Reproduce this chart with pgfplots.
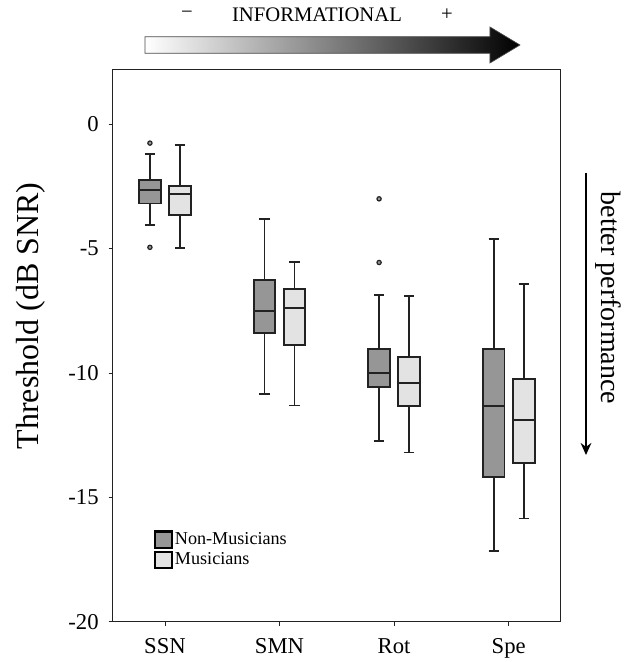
\documentclass[border=0pt]{standalone}
\usepackage{pgfplots}
\pgfplotsset{compat=1.18}
\usepgfplotslibrary{statistics}
\usetikzlibrary{arrows.meta}
\usepackage{fontspec}
\setmainfont{Liberation Serif}

\definecolor{nmcol}{HTML}{969696}
\definecolor{mcol}{HTML}{E3E3E3}
\definecolor{edgecol}{HTML}{222222}

\pgfplotsset{
  bx/.style={forget plot, solid, draw=edgecol, line width=1.4pt, fill=#1,
    boxplot/draw direction=y, boxplot/box extend=0.19, boxplot/whisker extend=0.09,
    mark=*, mark size=1.6pt, mark options={fill=#1, draw=edgecol, line width=0.9pt}},
  sqleg/.style={legend image code/.code={\draw[##1] (0pt,-6.2pt) rectangle (12.5pt,6.2pt);}},
}

\begin{document}
\begin{tikzpicture}
\begin{axis}[
  at={(0,0)}, anchor=south west,
  scale only axis, width=336pt, height=413.8pt,
  xmin=0.544, xmax=4.454, ymin=-20, ymax=2.18,
  axis line style={line width=0.8pt, draw=edgecol},
  xtick={1,2,3,4}, xticklabels={SSN,SMN,Rot,Spe},
  ytick={-20,-15,-10,-5,0}, yticklabels={-20,-15,-10,-5,0},
  tick pos=left, tick align=outside, major tick length=3pt,
  tick style={draw=edgecol, line width=0.6pt},
  ticklabel style={font=\fontsize{17}{20}\selectfont},
  yticklabel style={xshift=-4pt},
  xticklabel style={yshift=-6pt},
  ylabel={Threshold (dB SNR)},
  ylabel style={font=\fontsize{24}{28}\selectfont, at={(axis description cs:-0.182,0.554)}, anchor=center},
  legend style={at={(0.092,0.166)}, anchor=north west, draw=none, fill=none,
    font=\fontsize{13.6}{15}\selectfont, row sep=1.2pt, inner sep=0pt,
    nodes={inner sep=1.5pt}},
  legend cell align=left,
]
% Non-Musicians
\addplot[bx=nmcol, boxplot prepared={draw position=0.869,
  lower whisker=-4.04, lower quartile=-3.19, median=-2.63, upper quartile=-2.24, upper whisker=-1.19}]
  table[row sep=\\, y index=0] {-0.76\\ -4.95\\};
\addplot[bx=nmcol, boxplot prepared={draw position=1.869,
  lower whisker=-10.86, lower quartile=-8.39, median=-7.51, upper quartile=-6.28, upper whisker=-3.80}]
  coordinates {};
\addplot[bx=nmcol, boxplot prepared={draw position=2.869,
  lower whisker=-12.73, lower quartile=-10.55, median=-9.99, upper quartile=-9.04, upper whisker=-6.88}]
  table[row sep=\\, y index=0] {-3.00\\ -5.56\\};
\addplot[bx=nmcol, boxplot prepared={draw position=3.869,
  lower whisker=-17.16, lower quartile=-14.19, median=-11.33, upper quartile=-9.04, upper whisker=-4.61}]
  coordinates {};
% Musicians
\addplot[bx=mcol, boxplot prepared={draw position=1.131,
  lower whisker=-4.98, lower quartile=-3.65, median=-2.81, upper quartile=-2.50, upper whisker=-0.83}]
  coordinates {};
\addplot[bx=mcol, boxplot prepared={draw position=2.131,
  lower whisker=-11.31, lower quartile=-8.89, median=-7.38, upper quartile=-6.64, upper whisker=-5.54}]
  coordinates {};
\addplot[bx=mcol, boxplot prepared={draw position=3.131,
  lower whisker=-13.20, lower quartile=-11.34, median=-10.42, upper quartile=-9.36, upper whisker=-6.92}]
  coordinates {};
\addplot[bx=mcol, boxplot prepared={draw position=4.131,
  lower whisker=-15.85, lower quartile=-13.62, median=-11.88, upper quartile=-10.24, upper whisker=-6.44}]
  coordinates {};
\addlegendimage{sqleg, fill=nmcol, draw=black, line width=1.6pt}
\addlegendentry{Non-Musicians}
\addlegendimage{sqleg, fill=mcol, draw=black, line width=1.6pt}
\addlegendentry{Musicians}
\end{axis}

\begin{scope}[x=0.75pt, y=0.75pt]
% informational gradient arrow on top
\shade[left color=white, right color=black, draw=black!70, line width=0.5pt]
  (32.3,568.4) -- (377.3,568.4) -- (377.3,558.7) -- (407.3,576.7) -- (377.3,594.7)
  -- (377.3,585) -- (32.3,585) -- cycle;
\node[font=\fontsize{15.5}{18}\selectfont] at (204.3,606.7) {INFORMATIONAL};
\node[font=\fontsize{15.5}{18}\selectfont] at (74.3,606.7) {\char"2212};
\node[font=\fontsize{15.5}{18}\selectfont] at (334.3,606.7) {+};

% performance arrow on the right
\draw[line width=1.5pt, -{Stealth[length=9pt, width=8pt]}] (473.3,448.7) -- (473.3,166.7);
\node[font=\fontsize{21}{24}\selectfont, rotate=-90] at (495.3,323.7) {better performance};

\pgfresetboundingbox
\useasboundingbox (-112.7,-40.3) rectangle (523.3,621.7);
\end{scope}
\end{tikzpicture}
\end{document}
